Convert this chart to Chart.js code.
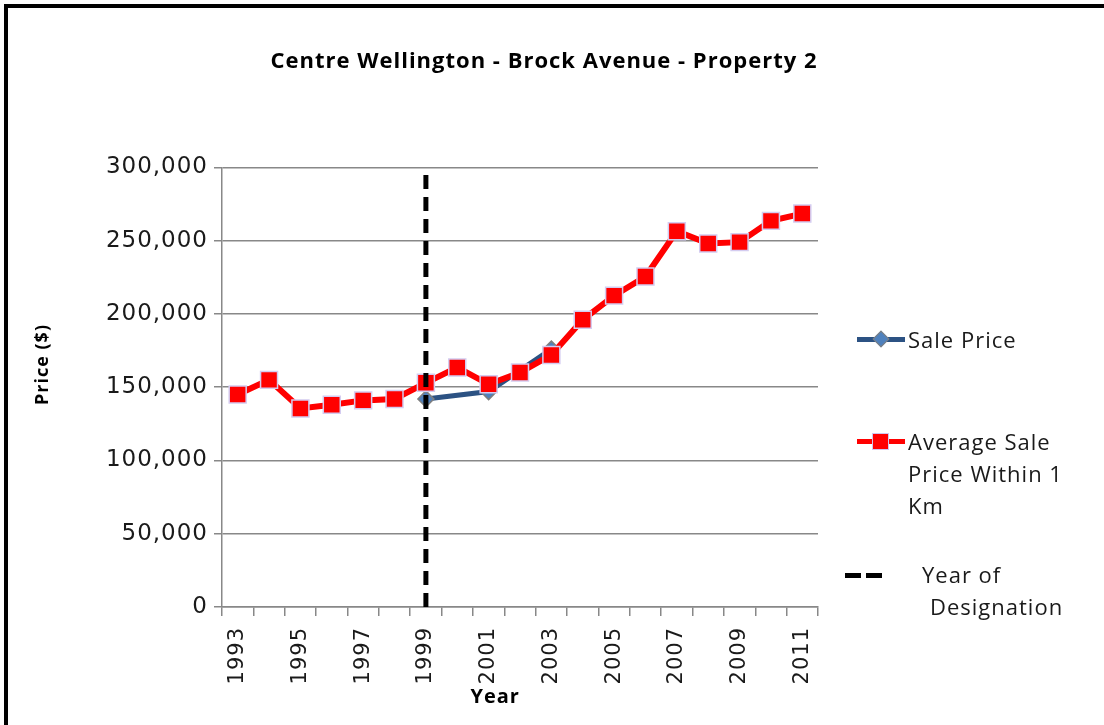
<!DOCTYPE html>
<html>
<head>
<meta charset="utf-8">
<script src="https://cdn.jsdelivr.net/npm/chart.js@4.4.1/dist/chart.umd.min.js"></script>
<style>
  html, body { margin: 0; padding: 0; background: #fff; overflow: hidden; }
  #wrap { position: relative; width: 1104px; height: 725px; }
  #frame {
    position: absolute; left: 4px; top: 4px; width: 1200px; height: 800px;
    border-left: 4px solid #000; border-top: 4px solid #000;
  }
  #chart { position: absolute; left: 0; top: 0; }
  .lg { position: absolute; font-family: "Open Sans", sans-serif; font-size: 22px; letter-spacing: 1px; color: #1a1a1a; line-height: 32px; }
  .ln { position: absolute; height: 5px; }
  .dia { position: absolute; width: 10px; height: 10px; background: #4F81BD; border: 1px solid #7F7F7F; transform: rotate(45deg); }
  .sq { position: absolute; width: 15px; height: 15px; background: #FF0000; border: 1px solid #CFC6EE; }
</style>
</head>
<body>
<div id="wrap">
  <div id="frame"></div>
  <canvas id="chart" width="1104" height="725"></canvas>

  <!-- legend -->
  <div class="ln" style="left:857px; top:337px; width:48px; background:#2C5283;"></div>
  <div class="dia" style="left:875px; top:333px;"></div>
  <div class="lg" style="left:908px; top:323px;">Sale Price</div>

  <div class="ln" style="left:857px; top:439px; width:48px; background:#FF0000;"></div>
  <div class="sq" style="left:872px; top:433px;"></div>
  <div class="lg" style="left:908px; top:425px;">Average Sale<br>Price Within 1<br>Km</div>

  <div class="ln" style="left:845px; top:573px; width:16px; background:#000;"></div>
  <div class="ln" style="left:866px; top:573px; width:16px; background:#000;"></div>
  <div class="lg" style="left:922px; top:558px;">Year of</div>
  <div class="lg" style="left:930px; top:590px;">Designation</div>
</div>

<script>
const years = ["1993","1994","1995","1996","1997","1998","1999","2000","2001","2002",
               "2003","2004","2005","2006","2007","2008","2009","2010","2011"];

// average sale price within 1 km
const avgPrice = [145000, 155000, 135500, 138000, 141000, 142000, 153000, 163500, 152000, 160000,
                  172000, 196000, 212500, 225500, 256500, 248000, 249000, 263500, 268500];

// sale price of the property itself (only three sales)
const salePrice = [null, null, null, null, null, null, 142000, null, 147000, null,
                   176000, null, null, null, null, null, null, null, null];

const designationYear = "1999";
const yTop = 300000;
const yStep = 50000;

const boldFont = (size) => ({ family: "Open Sans", size, weight: "bold" });

// the source picture is a bit wide, so space the letters out a little
const letterSpacing = {
  id: "letterSpacing",
  afterInit: (chart) => { chart.ctx.letterSpacing = "1px"; },
  beforeUpdate: (chart) => { chart.ctx.letterSpacing = "1px"; },
  beforeDraw: (chart) => { chart.ctx.letterSpacing = "1px"; }
};

new Chart(document.getElementById("chart").getContext("2d"), {
  type: "line",
  data: {
    labels: years,
    datasets: [
      {
        label: "Sale Price",
        data: salePrice,
        spanGaps: true,
        borderColor: "#2C5283",
        borderWidth: 5,
        pointStyle: "rectRot",
        pointRadius: 8,
        pointBackgroundColor: "#4F81BD",
        pointBorderColor: "#7F7F7F",
        pointBorderWidth: 1.5,
        order: 2
      },
      {
        label: "Average Sale Price Within 1 Km",
        data: avgPrice,
        borderColor: "#FF0000",
        borderWidth: 6,
        pointStyle: "rect",
        pointRadius: 12,
        pointBackgroundColor: "#FF0000",
        pointBorderColor: "#D4CCF0",
        pointBorderWidth: 1.5,
        order: 1
      },
      {
        label: "Year of Designation",
        data: [{ x: designationYear, y: 0 }, { x: designationYear, y: yTop }],
        borderColor: "#000",
        borderWidth: 5,
        borderDash: [14, 8],
        pointRadius: 0,
        order: 0
      }
    ]
  },
  plugins: [letterSpacing],
  options: {
    responsive: false,
    animation: false,
    layout: { padding: { left: 12, right: 28, top: 0, bottom: 0 } },
    plugins: {
      legend: { display: false },
      tooltip: { enabled: false },
      title: {
        display: true,
        text: "Centre Wellington - Brock Avenue - Property 2",
        color: "#000",
        font: boldFont(22),
        padding: { top: 49, bottom: 92 }
      }
    },
    scales: {
      x: {
        offset: true,
        grid: { display: true, offset: true, drawOnChartArea: false, color: "#888", lineWidth: 1.5, tickLength: 9 },
        border: { color: "#888", width: 1.5 },
        ticks: {
          autoSkip: false, minRotation: 90, maxRotation: 90,
          color: "#1a1a1a", font: { family: "DejaVu Sans", size: 21 }, padding: 11,
          callback: (v, i) => (i % 2 === 0 ? years[i] : "")
        },
        title: { display: true, text: "Year" + " ".repeat(8), color: "#000", font: boldFont(20), padding: { top: 0, bottom: 16 } },
        afterFit: (s) => { s.height = 118; }
      },
      y: {
        min: 0,
        max: yTop,
        grid: { color: "#888", lineWidth: 1.5, tickLength: 8 },
        border: { color: "#888", width: 1.5 },
        ticks: {
          stepSize: yStep, color: "#1a1a1a", font: { family: "DejaVu Sans", size: 23 }, padding: 6,
          callback: (v) => v.toLocaleString("en-US")
        },
        title: { display: true, text: " ".repeat(8) + "Price ($)", color: "#000", font: boldFont(18), padding: { top: 20, bottom: 0 } },
        afterFit: (s) => { s.width = 210; }
      },
      // empty axis on the right only reserves room for the legend
      side: {
        type: "linear",
        position: "right",
        grid: { display: false },
        border: { display: false },
        ticks: { display: false },
        afterFit: (s) => { s.width = 258; }
      }
    }
  }
});
</script>
</body>
</html>
